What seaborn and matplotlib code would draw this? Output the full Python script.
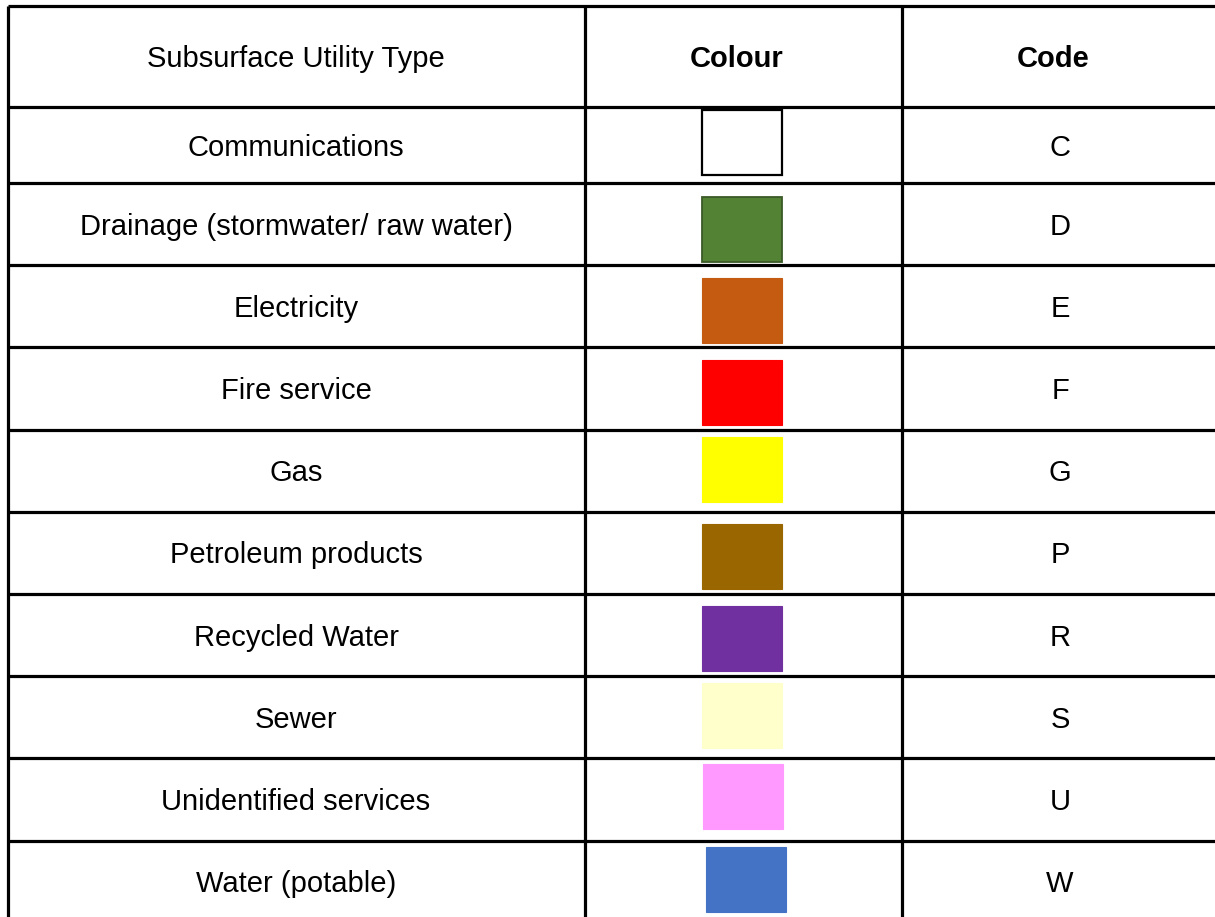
#---------------importing the libraries
import matplotlib
matplotlib.use("Agg")
import matplotlib.pyplot as plt
from matplotlib.patches import Rectangle
import seaborn as sns

#---------------table content
headers = ["Subsurface Utility Type", "Colour", "Code"]
utility_types = ["Communications", "Drainage (stormwater/ raw water)", "Electricity",
                 "Fire service", "Gas", "Petroleum products", "Recycled Water",
                 "Sewer", "Unidentified services", "Water (potable)"]
colours = ["#FFFFFF", "#548235", "#C55A11", "#FF0000", "#FFFF00",
           "#996600", "#7030A0", "#FFFFCC", "#FF99FF", "#4472C4"]
codes = ["C", "D", "E", "F", "G", "P", "R", "S", "U", "W"]

#---------------layout (pixels)
W, H = 1215, 917
col_edges = [8, 585, 902, 1230]
header_top, header_bottom = 6, 107
row_heights = [76] + [82.2] * 9
swatch_dx = [702, 702, 702, 702, 702, 702, 702, 702, 703, 706]
swatch_dy = [3, 14, 13, 13, 7, 12, 12, 7, 6, 6]
swatch_w, swatch_h = 80, 65
header_x = [296, 737, 1053]
body_x = [296, 742, 1060]
text_dy = 2.5

sns.set_theme(style="white")
plt.rcParams["font.family"] = ["Liberation Sans", "DejaVu Sans"]
plt.rcParams["text.color"] = "black"

fig = plt.figure(figsize=(W / 100, H / 100), dpi=100)
ax = fig.add_axes([0, 0, 1, 1])
ax.set_xlim(0, W)
ax.set_ylim(H, 0)
ax.axis("off")

#---------------row boundaries
row_edges = [header_bottom]
for h in row_heights:
    row_edges.append(row_edges[-1] + h)

line_kw = dict(color="black", linewidth=2.3)
ax.hlines([header_top] + row_edges, col_edges[0], col_edges[-1], **line_kw)
ax.vlines(col_edges[:3], header_top, row_edges[-1], **line_kw)

#---------------header
fs = 21
hy = (header_top + header_bottom) / 2 + text_dy
ax.text(header_x[0], hy, headers[0], ha="center", va="center", fontsize=fs, color="black")
ax.text(header_x[1], hy, headers[1], ha="center", va="center", fontsize=fs,
        fontweight="bold", color="black")
ax.text(header_x[2], hy, headers[2], ha="center", va="center", fontsize=fs,
        fontweight="bold", color="black")

#---------------rows
for i, (name, col, code) in enumerate(zip(utility_types, colours, codes)):
    top, bottom = row_edges[i], row_edges[i + 1]
    cy = (top + bottom) / 2 + text_dy
    ax.text(body_x[0], cy, name, ha="center", va="center", fontsize=fs, color="black")
    ax.text(body_x[2], cy, code, ha="center", va="center", fontsize=fs, color="black")
    if i == 0:
        edge, lw = "black", 1.6
    elif i == 1:
        edge, lw = "#3B5A27", 1.3
    else:
        edge, lw = col, 0.8
    ax.add_patch(Rectangle((swatch_dx[i], top + swatch_dy[i]), swatch_w, swatch_h,
                           facecolor=col, edgecolor=edge, linewidth=lw))

fig.savefig("out.png", dpi=100)
